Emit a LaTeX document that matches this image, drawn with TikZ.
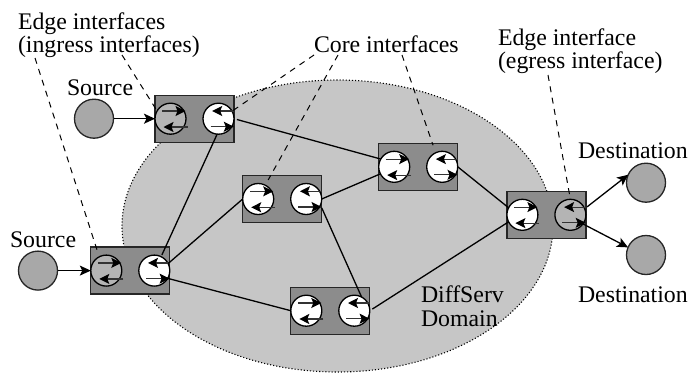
\documentclass[tikz,border=0pt]{standalone}
\usepackage{fontspec}
\setmainfont{Liberation Serif}
\usetikzlibrary{arrows.meta}
\definecolor{domainfill}{HTML}{C6C6C6}
\definecolor{boxfill}{HTML}{8C8C8C}
\definecolor{hostfill}{HTML}{A8A8A8}
\definecolor{grayport}{HTML}{B4B4B4}
\tikzset{
  routerbox/.style={draw=black!85,fill=boxfill,line width=1.3pt,minimum width=79pt,minimum height=47pt,inner sep=0pt,outer sep=0pt},
  ifport/.style={circle,draw=black,fill=white,line width=1.3pt,minimum size=31pt,inner sep=0pt,outer sep=0pt},
  edgeport/.style={ifport,fill=grayport},
  hostnode/.style={circle,draw=black!85,fill=hostfill,line width=1.3pt,minimum size=39pt,inner sep=0pt,outer sep=0pt},
  textlabel/.style={font=\fontsize{23.8}{23.5}\selectfont,anchor=base west,inner sep=0pt,outer sep=0pt,align=left},
  linkline/.style={draw=black,line width=1.3pt},
  linkarrow/.style={linkline,-{Stealth[length=11pt,width=10pt,inset=2.5pt]}},
  flowarrow/.style={draw=black!80,line width=1.2pt,-{Stealth[length=10pt,width=10pt,inset=2pt,color=black]}},
  leaderline/.style={draw=black,line width=1pt,dash pattern=on 6pt off 5.5pt},
  domainarea/.style={draw=black,fill=domainfill,line width=1.1pt,dash pattern=on 1.1pt off 2pt},
}
\begin{document}
\begin{tikzpicture}[x=1pt,y=-1pt]
\useasboundingbox (0,0) rectangle (698,372);
\fill[white] (0,0) rectangle (698,372);
\draw[domainarea] (337.5,226) ellipse [x radius=215.5,y radius=146];

\node[routerbox] (A) at (194.5,118.7) {};
\node[routerbox] (B) at (130.3,270.6) {};
\node[routerbox] (C) at (282.2,199) {};
\node[routerbox] (D) at (418.2,166.8) {};
\node[routerbox] (E) at (546.4,214.8) {};
\node[routerbox] (F) at (330.3,310.7) {};

\node[edgeport] (a1) at (170.5,118.7) {};
\node[ifport] (a2) at (218.5,118.7) {};
\node[edgeport] (b1) at (106.3,270.6) {};
\node[ifport] (b2) at (154.3,270.6) {};
\node[ifport] (c1) at (258.2,199) {};
\node[ifport] (c2) at (306.2,199) {};
\node[ifport] (d1) at (394.2,166.8) {};
\node[ifport] (d2) at (442.2,166.8) {};
\node[ifport] (e1) at (522.4,214.8) {};
\node[edgeport] (e2) at (570.4,214.8) {};
\node[ifport] (f1) at (306.3,310.7) {};
\node[ifport] (f2) at (354.3,310.7) {};

\node[hostnode] (s1) at (94,118.7) {};
\node[hostnode] (s2) at (38,270.6) {};
\node[hostnode] (t1) at (646,182.7) {};
\node[hostnode] (t2) at (646,255) {};

% flows inside the ports
\foreach \p in {a1,b1,c1,d1,e1,f1}{
  \draw[flowarrow] ([shift={(-8.3,-7.7)}]\p.center) -- ([shift={(15,-7.7)}]\p.center);
  \draw[flowarrow] ([shift={(17,8.3)}]\p.center) -- ([shift={(-7,8.3)}]\p.center);
}
\foreach \p in {a2,b2,c2,d2,e2,f2}{
  \draw[flowarrow] ([shift={(15.3,-7.7)}]\p.center) -- ([shift={(-6.3,-7.7)}]\p.center);
  \draw[flowarrow] ([shift={(-8,8)}]\p.center) -- ([shift={(15.3,8)}]\p.center);
}

% links
\draw[linkarrow] (s1) -- (a1.west);
\draw[linkarrow] (s2) -- (b1.west);
\draw[linkline,shorten <=3pt] (a2.east) -- (d1.150);
\draw[linkline,shorten >=2pt] (a2.-95) -- (b2.64);
\draw[linkline] (b2.27) -- (c1.west);
\draw[linkline,shorten <=-3pt] (b2.-30) -- (f1.west);
\draw[linkline] (c2.east) -- (d1.207);
\draw[linkline,shorten <=3pt] (c2.-23) -- (f2.62);
\draw[linkline] (d2.east) -- (e1.153);
\draw[linkline,shorten <=3pt] (f2.east) -- (e1.207);
\draw[linkarrow,shorten <=3pt] (e2.23) -- (t1.156);
\draw[linkarrow] (e2.-36) -- (t2.157);

% labels
\node[textlabel] (edgeIn) at (18,52.7) {Edge interfaces\\(ingress interfaces)};
\node[textlabel] (core) at (314,52) {Core interfaces};
\node[textlabel] (edgeOut) at (498,68.5) {Edge interface\\(egress interface)};
\node[textlabel] (src1) at (67,95) {Source};
\node[textlabel] (src2) at (10,247) {Source};
\node[textlabel] (dst1) at (578,158) {Destination};
\node[textlabel] (dst2) at (578,302) {Destination};
\node[textlabel] (dom) at (421,326) {DiffServ\\Domain};

% leaders
\coordinate (l1) at (122,55);
\coordinate (l2) at (35,58);
\coordinate (l3) at (314,55);
\coordinate (l4) at (338,55);
\coordinate (l5) at (402,55);
\coordinate (l6) at (548,75);
\draw[leaderline] (l1) -- (a1.150);
\draw[leaderline,shorten >=2pt] (l2) -- (b1.117);
\draw[leaderline] (l3) -- (a2.29);
\draw[leaderline,shorten >=6pt] (l4) -- (c1.63);
\draw[leaderline,shorten >=8pt] (l5) -- (d2.115);
\draw[leaderline] (l6) -- (e2.north);
\end{tikzpicture}
\end{document}
